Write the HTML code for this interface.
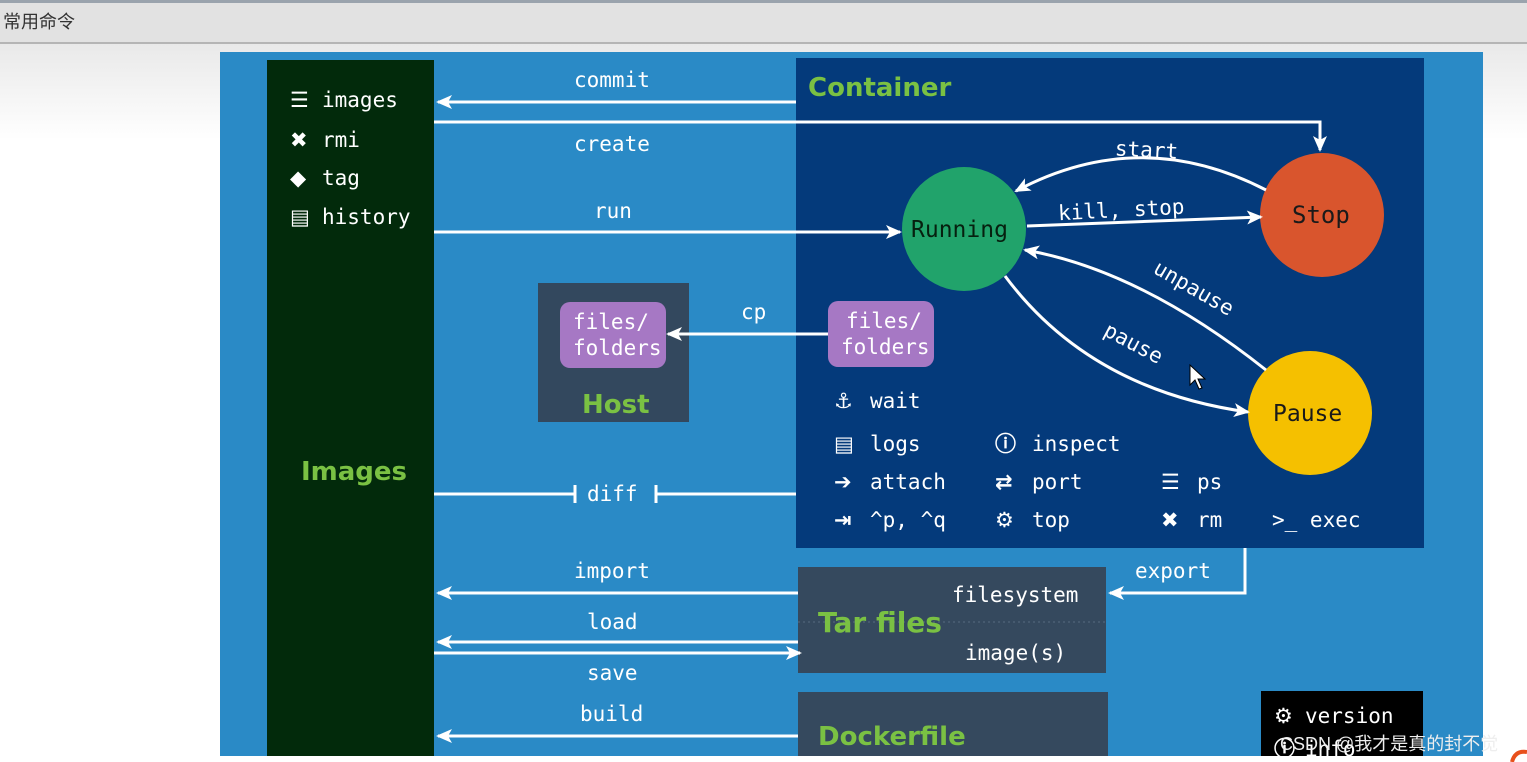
<!DOCTYPE html>
<html><head><meta charset="utf-8"><style>
html,body{margin:0;padding:0;width:1527px;height:762px;overflow:hidden;background:linear-gradient(#e8e8e8 40px,#fff 140px);}
.top{position:absolute;left:0;top:0;width:1527px;height:3px;background:#9aa3ad}
.bar{position:absolute;left:0;top:3px;width:1527px;height:39px;background:#e2e2e2;border-bottom:2px solid #b5b5b5;font:18px "Liberation Sans","Noto Sans CJK SC",sans-serif;color:#333;line-height:39px;padding-left:3px}
svg{position:absolute;left:0;top:0}
text{font-family:"DejaVu Sans Mono","Liberation Mono",monospace;font-size:21px;fill:#fff}
.t{font-family:"DejaVu Sans","Liberation Sans",sans-serif;font-weight:bold;fill:#7ac143;font-size:26px}
.i{font-family:"DejaVu Sans",sans-serif;font-size:21px;font-weight:bold}
</style></head><body>
<div class="top"></div><div class="bar">常用命令</div>
<svg width="1527" height="762" viewBox="0 0 1527 762">
<defs><marker id="b" markerWidth="16" markerHeight="14" refX="14" refY="7" orient="auto" markerUnits="userSpaceOnUse"><path d="M0,0 L16,7 L0,14 L4,7z" fill="#fff"/></marker></defs>
<rect x="220" y="52" width="1263" height="704" fill="#2a8ac6"/>
<rect x="267" y="60" width="167" height="696" fill="#022a0b"/>
<rect x="796" y="58" width="628" height="490" fill="#043a7b"/>
<rect x="538" y="283" width="151" height="139" fill="#33485e"/>
<rect x="798" y="567" width="308" height="106" fill="#35495e"/>
<line x1="798" y1="622" x2="1106" y2="622" stroke="#566a80" stroke-dasharray="2,3"/>
<rect x="798" y="692" width="310" height="64" fill="#35495e"/>
<rect x="1261" y="691" width="162" height="65" fill="#000"/>
<rect x="560" y="302" width="106" height="66" rx="10" fill="#a678c4"/>
<rect x="828" y="301" width="106" height="66" rx="10" fill="#a678c4"/>
<circle cx="964" cy="229" r="62" fill="#21a36b"/>
<circle cx="1322" cy="215" r="62" fill="#d9552d"/>
<circle cx="1310" cy="413" r="62" fill="#f5c000"/>
<g stroke="#fff" stroke-width="3" fill="none">
<line x1="796" y1="102" x2="438" y2="102" marker-end="url(#b)"/>
<polyline points="434,122 1320,122 1320,150" marker-end="url(#b)"/>
<line x1="434" y1="232" x2="900" y2="232" marker-end="url(#b)"/>
<line x1="828" y1="334" x2="668" y2="334" marker-end="url(#b)"/>
<line x1="434" y1="494" x2="575" y2="494"/><line x1="575" y1="485" x2="575" y2="503"/>
<line x1="796" y1="494" x2="656" y2="494"/><line x1="656" y1="485" x2="656" y2="503"/>
<line x1="798" y1="593" x2="438" y2="593" marker-end="url(#b)"/>
<line x1="798" y1="642" x2="438" y2="642" marker-end="url(#b)"/>
<line x1="434" y1="653" x2="800" y2="653" marker-end="url(#b)"/>
<line x1="798" y1="736" x2="438" y2="736" marker-end="url(#b)"/>
<polyline points="1245,548 1245,593 1110,593" marker-end="url(#b)"/>
<path d="M1266,190 Q1140,125 1016,191" marker-end="url(#b)"/>
<line x1="1027" y1="226" x2="1261" y2="217" marker-end="url(#b)"/>
<path d="M1266,370 Q1140,270 1025,250" marker-end="url(#b)"/>
<path d="M1005,276 Q1090,390 1248,412" marker-end="url(#b)"/>
</g>
<text x="322" y="107">images</text><text x="322" y="147">rmi</text><text x="322" y="185">tag</text><text x="322" y="224">history</text>
<text class="i" x="290" y="107">☰</text><text class="i" x="290" y="147">✖</text><text class="i" x="290" y="185">◆</text><text class="i" x="290" y="224">▤</text>
<text class="t" x="301" y="480">Images</text>
<text class="t" x="808" y="96">Container</text>
<text class="t" x="582" y="413">Host</text>
<text class="t" x="818" y="632" style="font-size:28px">Tar files</text>
<text class="t" x="818" y="745">Dockerfile</text>
<text x="574" y="87">commit</text><text x="574" y="151">create</text><text x="594" y="218">run</text>
<text x="741" y="319">cp</text><text x="587" y="501">diff</text>
<text x="574" y="578">import</text><text x="587" y="629">load</text><text x="587" y="680">save</text><text x="580" y="721">build</text>
<text x="1135" y="578">export</text>
<text x="952" y="602">filesystem</text><text x="965" y="660">image(s)</text>
<text x="573" y="329">files/</text><text x="573" y="355">folders</text>
<text x="846" y="328">files/</text><text x="841" y="354">folders</text>
<text x="911" y="237" style="fill:#06200f;font-size:23px">Running</text>
<text x="1292" y="223" style="fill:#1a1a1a;font-size:24px">Stop</text>
<text x="1273" y="421" style="fill:#1a1a1a;font-size:23px">Pause</text>
<text x="1115" y="157" transform="rotate(3 1147 150)">start</text>
<text x="1058" y="217" transform="rotate(-3 1120 210)">kill, stop</text>
<text x="1140" y="293" transform="rotate(30 1185 305)">unpause</text>
<text x="1096" y="350" transform="rotate(28 1130 355)">pause</text>
<g>
<text class="i" x="834" y="408">⚓</text><text x="870" y="408">wait</text>
<text class="i" x="834" y="451">▤</text><text x="870" y="451">logs</text>
<text class="i" x="834" y="489">➔</text><text x="870" y="489">attach</text>
<text class="i" x="834" y="527">⇥</text><text x="870" y="527">^p, ^q</text>
<text class="i" x="995" y="451">ⓘ</text><text x="1032" y="451">inspect</text>
<text class="i" x="995" y="489">⇄</text><text x="1032" y="489">port</text>
<text class="i" x="995" y="527">⚙</text><text x="1032" y="527">top</text>
<text class="i" x="1161" y="489">☰</text><text x="1197" y="489">ps</text>
<text class="i" x="1161" y="527">✖</text><text x="1197" y="527">rm</text>
<text x="1272" y="527">&gt;_ exec</text>
<text class="i" x="1274" y="723">⚙</text><text x="1305" y="723">version</text>
<text class="i" x="1274" y="756">ⓘ</text><text x="1305" y="756">info</text>
</g>
<text x="1280" y="750" style="font-family:'Liberation Sans','Noto Sans CJK SC',sans-serif;font-size:18px;fill:#eee">CSDN @我才是真的封不觉</text>
<path d="M1512,762 Q1515,750 1527,752" stroke="#e8501c" stroke-width="4" fill="none"/>
<path d="M1190,365 L1190,385 L1195,380 L1199,389 L1202,388 L1198,379 L1205,379z" fill="#fff" stroke="#000" stroke-width="1"/>
</svg>
</body></html>
